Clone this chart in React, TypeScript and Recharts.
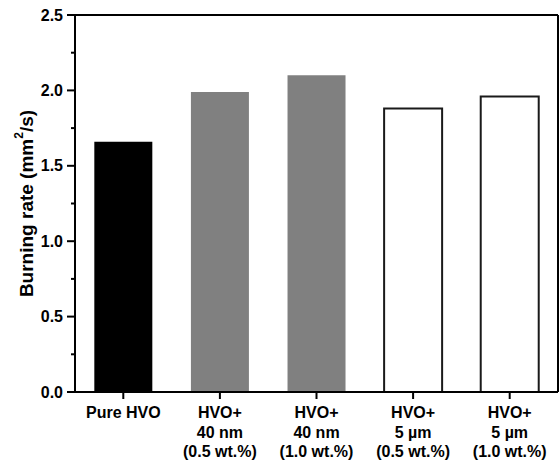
import { Bar, BarChart, Cell, XAxis, YAxis } from "recharts";

const categories = [
  "Pure HVO",
  "HVO+\n40 nm\n(0.5 wt.%)",
  "HVO+\n40 nm\n(1.0 wt.%)",
  "HVO+\n5 µm\n(0.5 wt.%)",
  "HVO+\n5 µm\n(1.0 wt.%)",
];
const burningRate = [1.66, 1.99, 2.1, 1.88, 1.96];
const yTicks = [0, 0.25, 0.5, 0.75, 1.0, 1.25, 1.5, 1.75, 2.0, 2.25, 2.5];

const fills = ["#000000", "#808080", "#808080", "#ffffff", "#ffffff"];
const strokes = ["none", "none", "none", "#1a1a1a", "#1a1a1a"];

const font = "'Liberation Sans', Arial, sans-serif";

const data = categories.map((name, i) => ({ name, value: burningRate[i] }));

const YTick = ({ x, y, payload }: any) => {
  const v = payload.value as number;
  const major = Math.abs(v * 2 - Math.round(v * 2)) < 1e-6;
  return (
    <g>
      <line x1={x} x2={x - (major ? 8 : 4)} y1={y} y2={y} stroke="#000" strokeWidth={2} />
      {major && (
        <text
          x={x - 12}
          y={y}
          textAnchor="end"
          dominantBaseline="central"
          fontFamily={font}
          fontWeight="bold"
          fontSize={16}
          fill="#000"
        >
          {v.toFixed(1)}
        </text>
      )}
    </g>
  );
};

const XTick = ({ x, y, payload }: any) => {
  const lines = String(payload.value).split("\n");
  return (
    <text
      x={x}
      y={y}
      textAnchor="middle"
      fontFamily={font}
      fontWeight="bold"
      fontSize={16}
      fill="#000"
    >
      {lines.map((l, i) => (
        <tspan key={i} x={x} y={y + 17 + i * 19.5}>
          {l}
        </tspan>
      ))}
    </text>
  );
};

const YLabel = ({ viewBox }: any) => {
  const cx = viewBox.x + 26;
  const cy = viewBox.y + viewBox.height / 2;
  return (
    <text
      x={cx}
      y={cy}
      transform={`rotate(-90 ${cx} ${cy})`}
      textAnchor="middle"
      dominantBaseline="central"
      fontFamily={font}
      fontWeight="bold"
      fontSize={19}
      fill="#000"
    >
      Burning rate (mm
      <tspan fontSize={12} dy={-7}>
        2
      </tspan>
      <tspan dy={7}>/s)</tspan>
    </text>
  );
};

export default function App() {
  return (
    <div style={{ position: "absolute", left: 0, top: 0, background: "#fff" }}>
      <BarChart
        width={559}
        height={462}
        data={data}
        margin={{ top: 14, right: 0, bottom: 0, left: 0 }}
        barCategoryGap="20%"
      >
        <XAxis
          dataKey="name"
          interval={0}
          height={70}
          tick={<XTick />}
          tickSize={7}
          tickLine={{ stroke: "#000", strokeWidth: 2 }}
          axisLine={{ stroke: "#000", strokeWidth: 2 }}
        />
        <XAxis
          xAxisId="top"
          dataKey="name"
          orientation="top"
          height={1}
          tick={false}
          tickLine={false}
          axisLine={{ stroke: "#000", strokeWidth: 2 }}
        />
        <YAxis
          type="number"
          domain={[0, 2.5]}
          ticks={yTicks}
          interval={0}
          width={75}
          tickSize={0}
          tickMargin={0}
          tick={<YTick />}
          tickLine={false}
          axisLine={{ stroke: "#000", strokeWidth: 2 }}
          label={<YLabel />}
        />
        <YAxis
          yAxisId="right"
          orientation="right"
          type="number"
          domain={[0, 2.5]}
          width={1}
          tick={false}
          tickLine={false}
          axisLine={{ stroke: "#000", strokeWidth: 2 }}
        />
        <Bar dataKey="value" isAnimationActive={false}>
          {data.map((_, i) => (
            <Cell key={i} fill={fills[i]} stroke={strokes[i]} strokeWidth={2} />
          ))}
        </Bar>
      </BarChart>
    </div>
  );
}
